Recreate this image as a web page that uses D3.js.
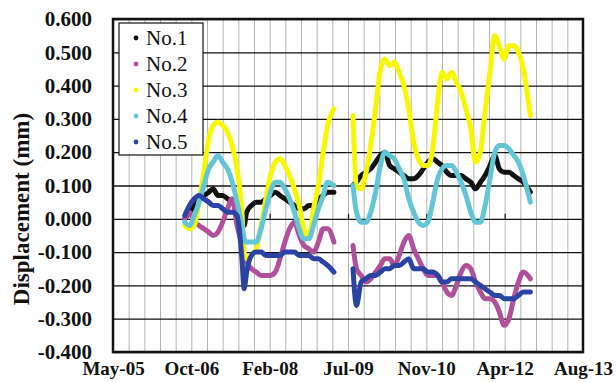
<!DOCTYPE html>
<html>
<head>
<meta charset="utf-8">
<script src="https://d3js.org/d3.v7.min.js"></script>
<style>
  html, body { margin: 0; padding: 0; background: #fff; }
  svg { display: block; }
</style>
</head>
<body>
<script>
// ---------- DATA ----------
// sampling dates (a null gap separates the two recording periods)
const dates = [
  "2006-09-01","2006-10-01","2006-11-01","2006-12-01","2007-01-01","2007-02-01",
  "2007-03-01","2007-04-01","2007-05-01","2007-06-01","2007-07-01","2007-08-01",
  "2007-09-01","2007-09-15","2007-10-01","2007-11-01","2007-12-01","2008-01-01",
  "2008-02-01","2008-03-01","2008-04-01","2008-05-01","2008-06-01","2008-07-01",
  "2008-08-01","2008-09-01","2008-10-01","2008-11-01","2008-12-01","2009-01-01",
  "2009-02-01","2009-03-01","2009-04-10",
  "2009-06-01",
  "2009-08-10","2009-09-01","2009-10-01","2009-11-01","2009-12-01","2010-01-01",
  "2010-02-01","2010-03-01","2010-04-01","2010-05-01","2010-06-01","2010-07-01",
  "2010-08-01","2010-09-01","2010-10-01","2010-11-01","2010-12-01","2011-01-01",
  "2011-02-01","2011-03-01","2011-04-01","2011-05-01","2011-06-01","2011-07-01",
  "2011-08-01","2011-09-01","2011-10-01","2011-11-01","2011-12-01","2012-01-01",
  "2012-02-01","2012-03-01","2012-04-01","2012-05-01","2012-06-01","2012-07-01",
  "2012-08-01","2012-09-15"
];

const seriesNames = ["No.1", "No.2", "No.3", "No.4", "No.5"];

const no1 = [
  0.00,0.02,0.04,0.06,0.07,0.08,0.09,0.07,0.07,0.06,0.05,0.03,-0.01,-0.02,0.02,0.04,0.05,
  0.05,0.06,0.07,0.08,0.07,0.06,0.05,0.04,0.03,0.03,0.04,0.04,0.06,0.07,0.08,0.08,
  null,
  0.10,0.11,0.13,0.14,0.15,0.17,0.19,0.20,0.16,0.15,0.14,0.13,0.12,0.12,0.13,0.15,0.17,
  0.18,0.17,0.16,0.14,0.13,0.13,0.13,0.12,0.11,0.09,0.11,0.13,0.16,0.19,0.15,0.14,0.14,
  0.13,0.12,0.11,0.08
];
const no2 = [
  0.00,0.02,-0.01,-0.02,-0.03,-0.04,-0.05,-0.04,-0.01,0.03,0.06,-0.02,-0.08,-0.11,-0.13,-0.15,-0.16,
  -0.17,-0.17,-0.17,-0.16,-0.12,-0.07,-0.03,-0.01,-0.05,-0.08,-0.09,-0.10,-0.07,-0.03,-0.03,-0.07,
  null,
  -0.08,-0.15,-0.17,-0.19,-0.18,-0.16,-0.14,-0.12,-0.12,-0.14,-0.11,-0.07,-0.05,-0.09,-0.12,-0.15,-0.17,
  -0.17,-0.17,-0.19,-0.22,-0.23,-0.20,-0.16,-0.14,-0.15,-0.19,-0.22,-0.24,-0.24,-0.25,-0.28,-0.32,-0.30,
  -0.24,-0.19,-0.16,-0.18
];
const no3 = [
  -0.02,-0.03,-0.02,0.05,0.14,0.24,0.28,0.29,0.28,0.26,0.22,0.15,0.02,-0.10,-0.12,-0.11,-0.09,
  -0.02,0.06,0.13,0.17,0.18,0.16,0.13,0.09,0.04,-0.03,-0.06,0.03,0.10,0.20,0.28,0.33,
  null,
  0.31,0.10,0.09,0.14,0.22,0.33,0.45,0.48,0.46,0.47,0.44,0.40,0.33,0.23,0.18,0.16,0.16,
  0.21,0.35,0.44,0.42,0.44,0.41,0.38,0.33,0.27,0.17,0.20,0.32,0.44,0.55,0.52,0.48,0.52,
  0.52,0.50,0.45,0.31
];
const no4 = [
  -0.01,-0.02,0.01,0.05,0.10,0.15,0.17,0.19,0.17,0.15,0.11,0.05,-0.02,-0.06,-0.07,-0.07,-0.07,
  -0.03,0.03,0.08,0.11,0.11,0.09,0.06,0.02,-0.03,-0.06,-0.06,-0.02,0.03,0.07,0.11,0.10,
  null,
  0.10,0.02,-0.01,-0.01,0.02,0.08,0.16,0.20,0.19,0.18,0.15,0.12,0.06,0.02,-0.01,-0.02,-0.01,
  0.05,0.12,0.15,0.16,0.16,0.14,0.11,0.07,0.02,-0.01,-0.01,0.04,0.12,0.20,0.22,0.22,0.21,
  0.19,0.17,0.13,0.05
];
const no5 = [
  0.01,0.04,0.06,0.07,0.06,0.05,0.04,0.04,0.03,0.02,0.02,0.01,-0.12,-0.21,-0.16,-0.11,-0.10,
  -0.10,-0.11,-0.11,-0.11,-0.11,-0.10,-0.10,-0.10,-0.11,-0.11,-0.11,-0.12,-0.12,-0.13,-0.14,-0.16,
  null,
  -0.15,-0.26,-0.19,-0.18,-0.17,-0.17,-0.16,-0.15,-0.15,-0.14,-0.14,-0.13,-0.12,-0.15,-0.15,-0.15,-0.16,
  -0.16,-0.17,-0.19,-0.19,-0.18,-0.18,-0.18,-0.18,-0.18,-0.19,-0.20,-0.21,-0.22,-0.23,-0.23,-0.24,-0.24,
  -0.24,-0.23,-0.22,-0.22
];

const yTicks = [-0.4,-0.3,-0.2,-0.1,0,0.1,0.2,0.3,0.4,0.5,0.6];
const xTickLabels = ["May-05","Oct-06","Feb-08","Jul-09","Nov-10","Apr-12","Aug-13"];
const colors = ["#111111", "#b0509b", "#f7f700", "#63c6d6", "#2b43a3"];

// ---------- LAYOUT ----------
const W = 616, H = 382;
const M = { left: 113, right: 583, top: 19, bottom: 352 };
const parse = d3.utcParse("%Y-%m-%d");
const DAY = 86400000;
const xStart = parse("2005-05-31");
const xEnd = new Date(+xStart + 3000 * DAY);

const x = d3.scaleUtc().domain([xStart, xEnd]).range([M.left, M.right]);
const y = d3.scaleLinear().domain([-0.4, 0.6]).range([M.bottom, M.top]);

const svg = d3.select("body").append("svg").attr("width", W).attr("height", H);
svg.append("rect").attr("width", W).attr("height", H).attr("fill", "#fff");

// minor vertical gridlines every 100 days
const minorDates = d3.range(0, 3001, 100).map(k => new Date(+xStart + k * DAY));
const majorDates = d3.range(0, 3001, 500).map(k => new Date(+xStart + k * DAY));

svg.append("g")
  .attr("transform", `translate(0,${M.bottom})`)
  .call(d3.axisBottom(x).tickValues(minorDates).tickSize(-(M.bottom - M.top)).tickFormat(""))
  .call(g => g.select(".domain").remove())
  .call(g => g.selectAll("line").attr("stroke", "#b5b5b5").attr("stroke-width", 1));

// horizontal gridlines (black)
svg.append("g")
  .attr("transform", `translate(${M.left},0)`)
  .call(d3.axisLeft(y).tickValues(yTicks).tickSize(-(M.right - M.left)).tickFormat(""))
  .call(g => g.select(".domain").remove())
  .call(g => g.selectAll("line").attr("stroke", "#111").attr("stroke-width", 1.3));

// y tick labels
svg.append("g")
  .attr("transform", `translate(${M.left},0)`)
  .call(d3.axisLeft(y).tickValues(yTicks).tickSize(0).tickPadding(21).tickFormat(d3.format(".3f")))
  .call(g => g.select(".domain").remove())
  .call(g => g.selectAll("text")
    .attr("font-family", "'Liberation Serif', 'Times New Roman', serif")
    .attr("font-weight", "bold").attr("font-size", 21).attr("fill", "#111")
    .text(d => d3.format(".3f")(d).replace("−", "-")));

// x labels at bottom
svg.append("g")
  .attr("transform", `translate(0,${M.bottom})`)
  .call(d3.axisBottom(x).tickValues(majorDates).tickSize(0).tickPadding(10)
    .tickFormat((d, i) => xTickLabels[i]))
  .call(g => g.select(".domain").remove())
  .call(g => g.selectAll("text")
    .attr("font-family", "'Liberation Serif', 'Times New Roman', serif")
    .attr("font-weight", "bold").attr("font-size", 19).attr("fill", "#111"));

// small tick marks on the zero line
svg.append("g")
  .attr("transform", `translate(0,${y(0)})`)
  .call(d3.axisTop(x).tickValues(majorDates.slice(1, -1)).tickSize(5).tickFormat(""))
  .call(g => g.select(".domain").remove())
  .call(g => g.selectAll("line").attr("stroke", "#111").attr("stroke-width", 1.2));

// series
const line = d3.line()
  .defined(d => d.v !== null)
  .x(d => x(parse(d.date)))
  .y(d => y(d.v))
  .curve(d3.curveMonotoneX);

const allSeries = [no1, no2, no3, no4, no5];
allSeries.forEach((vals, i) => {
  const data = dates.map((dt, j) => ({ date: dt, v: vals[j] }));
  svg.append("path")
    .datum(data)
    .attr("d", line)
    .attr("fill", "none")
    .attr("stroke", colors[i])
    .attr("stroke-width", 5)
    .attr("stroke-linejoin", "round")
    .attr("stroke-linecap", "round");
});

// plot border
svg.append("rect")
  .attr("x", M.left).attr("y", M.top)
  .attr("width", M.right - M.left).attr("height", M.bottom - M.top)
  .attr("fill", "none").attr("stroke", "#111").attr("stroke-width", 2.5);

// y-axis title
svg.append("text")
  .attr("transform", `translate(29,${209}) rotate(-90)`)
  .attr("text-anchor", "middle")
  .attr("font-family", "'Liberation Serif', 'Times New Roman', serif")
  .attr("font-weight", "bold").attr("font-size", 23).attr("fill", "#111")
  .text("Displacement (mm)");

// legend
const lg = svg.append("g");
lg.append("rect").attr("x", 119).attr("y", 23).attr("width", 84).attr("height", 132)
  .attr("fill", "#fff").attr("stroke", "#111").attr("stroke-width", 1.2);
seriesNames.forEach((name, i) => {
  const cy = 38 + i * 26;
  lg.append("circle").attr("cx", 136).attr("cy", cy).attr("r", 2.4).attr("fill", colors[i]);
  lg.append("text").attr("x", 146).attr("y", cy + 7)
    .attr("font-family", "'Liberation Serif', 'Times New Roman', serif")
    .attr("font-size", 21).attr("fill", "#111")
    .text(name);
});
</script>
</body>
</html>
